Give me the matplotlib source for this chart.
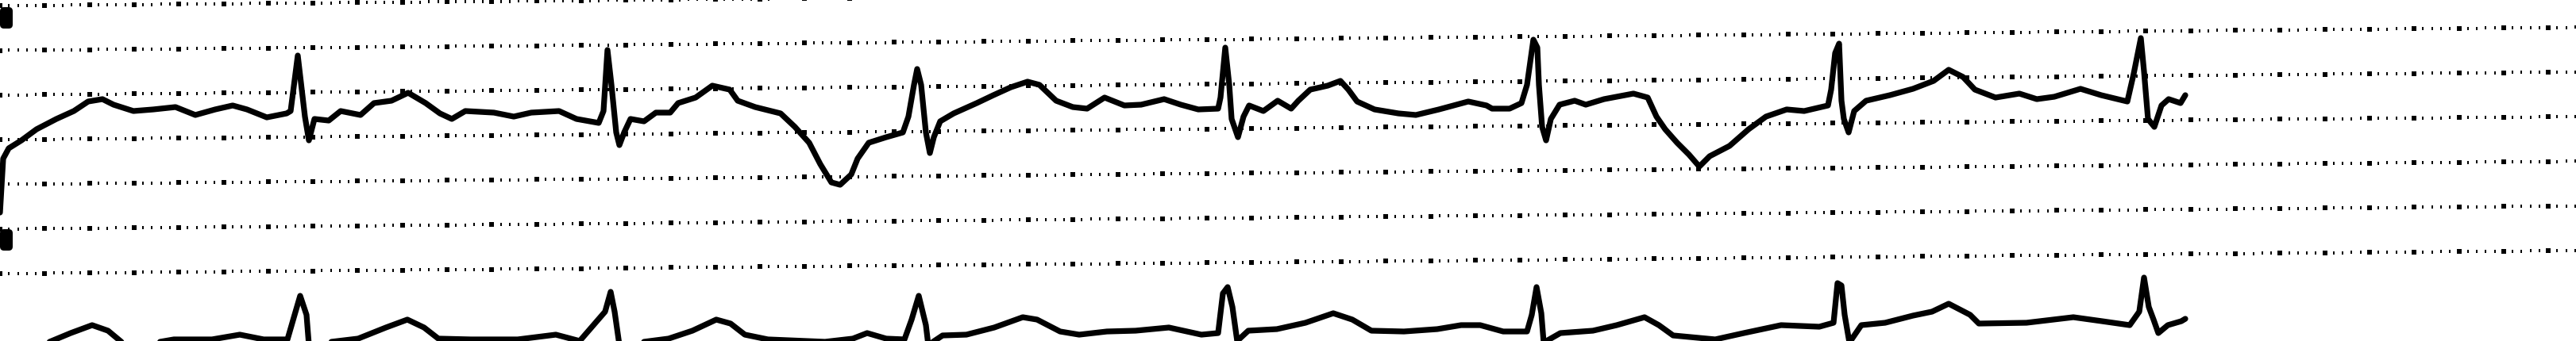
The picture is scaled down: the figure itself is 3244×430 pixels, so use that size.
import numpy as np
import matplotlib
matplotlib.use("Agg")
import matplotlib.pyplot as plt
from matplotlib.patches import FancyBboxPatch

# ==================== 读图得到的波形数据（单位：扫描像素） ====================
# 上导联（带基线漂移、倒置 T 波）
top_x = [0, 4, 11, 27, 46, 71, 93, 111, 129, 143, 168, 193, 221, 246, 271, 293, 311, 336,
         361, 366, 375, 384, 389, 396, 414, 429, 454, 471, 493, 514, 536, 554, 569, 586,
         622, 647, 669, 704, 726, 754, 760, 765, 770, 776, 780, 786, 794, 811, 826, 844,
         854, 876, 897, 919, 929, 951, 983, 1001, 1019, 1033, 1047, 1058, 1072, 1080,
         1094, 1116, 1137, 1144, 1151, 1155, 1160, 1166, 1171, 1176, 1184, 1201, 1230,
         1251, 1273, 1294, 1309, 1330, 1351, 1369, 1391, 1416, 1437, 1466, 1487, 1509,
         1534, 1537, 1543, 1548, 1551, 1559, 1566, 1573, 1591, 1609, 1626, 1635, 1650,
         1672, 1688, 1698, 1709, 1731, 1761, 1783, 1812, 1849, 1872, 1879, 1901, 1916,
         1923, 1931, 1936, 1938, 1942, 1947, 1953, 1964, 1983, 1997, 2020, 2057, 2075,
         2086, 2097, 2112, 2127, 2140, 2153, 2178, 2202, 2224, 2250, 2272, 2302, 2306,
         2311, 2316, 2319, 2322, 2328, 2335, 2350, 2380, 2409, 2435, 2454, 2472, 2487,
         2513, 2543, 2565, 2587, 2620, 2646, 2679, 2687, 2696, 2700, 2705, 2713, 2722,
         2731, 2746, 2752]
top_y = [268, 200, 187, 177, 163, 150, 140, 128, 125, 132, 140, 138, 135, 145, 138, 133, 138, 148,
         143, 140, 70, 147, 177, 150, 152, 140, 145, 130, 127, 117, 130, 143, 150, 140,
         142, 147, 142, 140, 150, 155, 140, 63, 107, 167, 183, 167, 150, 153, 142, 142,
         130, 123, 108, 113, 127, 135, 143, 160, 180, 207, 230, 233, 220, 200,
         180, 173, 167, 147, 107, 87, 107, 167, 193, 173, 153, 143, 130,
         120, 110, 103, 107, 127, 135, 137, 123, 133, 132, 125, 132, 138,
         137, 123, 60, 107, 150, 173, 147, 133, 140, 127, 137, 127, 113,
         108, 102, 113, 128, 138, 143, 145, 138, 128, 133, 137, 137, 130,
         107, 50, 60, 107, 160, 177, 150, 132, 127, 132, 125, 118, 123,
         147, 163, 180, 195, 210, 197, 184, 163, 147, 138, 140, 133, 113,
         67, 55, 127, 150, 167, 140, 127, 120, 112, 102, 88, 97, 113,
         123, 118, 125, 122, 112, 120, 128, 93, 48, 90, 150, 160, 133,
         125, 130, 120]

# 下导联（基线在纸边之下，只露出 P、R、T 波）
bot_x = [40, 65, 89, 116, 136, 154, 190, 219, 267, 302, 332, 362, 371, 378, 386, 389, 409,
         451, 486, 513, 534, 552, 593, 652, 700, 730, 762, 769, 774, 780, 842, 872, 902,
         920, 938, 967, 1039, 1074, 1092, 1116, 1139, 1148, 1157, 1166, 1169, 1187, 1217,
         1252, 1288, 1306, 1335, 1359, 1394, 1430, 1472, 1513, 1534, 1540, 1546, 1552,
         1558, 1572, 1608, 1644, 1679, 1703, 1727, 1768, 1810, 1840, 1864, 1893, 1923,
         1929, 1935, 1941, 1944, 1965, 2006, 2036, 2071, 2089, 2107, 2160, 2196, 2243,
         2291, 2309, 2314, 2319, 2323, 2329, 2344, 2374, 2409, 2433, 2454, 2481, 2492,
         2552, 2611, 2647, 2682, 2694, 2700, 2706, 2712, 2718, 2730, 2747, 2752]
bot_y = [440, 430, 420, 410, 417, 432, 433, 428, 428, 422, 428, 428, 397, 373, 397, 435, 432,
         427, 413, 403, 413, 427, 428, 428, 422, 430, 393, 368, 393, 435, 427, 417, 403,
         408, 422, 428, 431, 427, 420, 427, 428, 403, 373, 410, 435, 423, 422,
         413, 400, 403, 418, 422, 418, 417, 413, 422, 420, 370, 362, 387,
         430, 417, 415, 407, 395, 403, 417, 418, 415, 410, 410, 418, 418,
         397, 362, 395, 432, 420, 417, 410, 400, 410, 423, 428, 420, 410,
         412, 407, 357, 360, 397, 432, 410, 407, 398, 393, 383, 397, 408,
         407, 400, 405, 410, 393, 350, 387, 403, 420, 410, 405, 402]

# ==================== 画布：直接用扫描像素作坐标 ====================
W, H = 3244, 430
fig = plt.figure(figsize=(W / 100, H / 100), dpi=100)
ax = fig.add_axes([0, 0, 1, 1])
ax.set_xlim(0, W)
ax.set_ylim(H, 0)
ax.axis('off')

# 心电图纸的点阵（5 mm 大格，1 mm 小点，扫描略有倾斜）
mm = 11.26
tilt = -0.009
xs_major = np.arange(0, W, 5 * mm)
xs_minor = np.array([x for x in np.arange(0, W, mm) if abs((x / (5 * mm)) - round(x / (5 * mm))) > 0.05])
tick = [(-0.3, -0.7), (0.3, -0.7), (0.3, 0.7), (-0.3, 0.7)]
for j in range(-1, 6):
    y0 = 63.6 + 5 * mm * j
    ax.scatter(xs_major, y0 + tilt * xs_major, marker='s', s=22, c='black', linewidths=0)
    ax.scatter(xs_minor, y0 + tilt * xs_minor, marker=tick, s=11, c='black', linewidths=0)

# 左侧定标块
for y_top in (9, 289):
    ax.add_patch(FancyBboxPatch((0, y_top), 16, 27, boxstyle='round,pad=0,rounding_size=5',
                                fc='black', ec='none'))

# 两条导联波形
ax.plot(top_x, top_y, color='black', lw=5.2, solid_joinstyle='round', solid_capstyle='round')
ax.plot(bot_x, bot_y, color='black', lw=5.2, solid_joinstyle='round', solid_capstyle='round')

fig.savefig('out.png', dpi=100, facecolor='white')
